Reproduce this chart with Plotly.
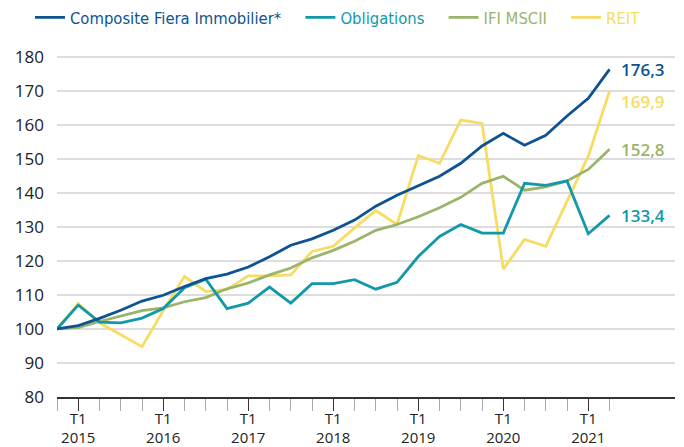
import plotly.graph_objects as go

quarters = ["T4 2014"] + [f"T{q} {y}" for y in range(2015, 2022) for q in range(1, 5)][:26]
composite = [100, 101.0, 103.1, 105.5, 108.2, 109.9, 112.5, 114.8, 116.1, 118.2, 121.2, 124.6, 126.5, 129.0,
             132.0, 136.1, 139.3, 142.2, 144.9, 148.7, 153.8, 157.5, 154.0, 156.9, 162.6, 167.8, 176.3]
obligations = [100, 107.0, 102.0, 101.8, 103.2, 106.0, 112.1, 114.6, 106.0, 107.6, 112.3, 107.6, 113.3, 113.3,
               114.5, 111.7, 113.7, 121.3, 127.2, 130.7, 128.2, 128.2, 142.8, 142.2, 143.5, 128.0, 133.4]
ifi_msci = [100, 100.4, 102.2, 103.9, 105.4, 106.2, 108.0, 109.2, 111.8, 113.5, 115.9, 117.9, 120.9, 123.1,
            125.8, 129.0, 130.7, 133.0, 135.6, 138.7, 142.8, 144.9, 140.8, 141.8, 143.5, 146.9, 152.8]
reit = [100, 107.5, 101.8, 98.3, 94.8, 105.4, 115.4, 111.0, 111.6, 115.6, 115.6, 115.9, 122.8, 124.3,
        129.7, 134.8, 130.7, 151.0, 148.7, 161.4, 160.4, 117.6, 126.3, 124.3, 137.7, 150.8, 169.9]

names = ["Composite Fiera Immobilier*", "Obligations", "IFI MSCII", "REIT"]
end_labels = ["176,3", "133,4", "152,8", "169,9"]
label_yshift = [0, 0, 0, -10]
colors = ["#0d5391", "#1199aa", "#9bb46b", "#f7dc64"]
series = [composite, obligations, ifi_msci, reit]

x = list(range(len(quarters)))
t1_idx = [i for i, q in enumerate(quarters) if q.startswith("T1")]
t1_text = ["T1<br>" + quarters[i].split()[1] for i in t1_idx]

pads = [3, 3, 3, 0]
fig = go.Figure()
draw_order = [3, 2, 1, 0]
for k in draw_order:
    fig.add_trace(go.Scatter(
        x=x, y=series[k], mode="lines",
        name=f"<span style='color:{colors[k]}'>{names[k]}</span>" + "\u00a0" * pads[k],
        line=dict(color=colors[k], width=2.8),
        legendrank=k + 1,
    ))
    fig.add_annotation(x=x[-1], y=series[k][-1], text=end_labels[k], showarrow=False,
                       xanchor="left", yanchor="middle", xshift=9, yshift=label_yshift[k],
                       font=dict(color=colors[k], size=17, family="Open Sans", weight=600))

# the page body adds an 8px offset, so the figure is sized to fit the 684x447 window
fig.update_layout(
    width=676, height=439,
    margin=dict(l=49, r=9, t=42, b=50, autoexpand=False),
    plot_bgcolor="white", paper_bgcolor="white",
    font=dict(family="Open Sans", color="#222222"),
    showlegend=True,
    legend=dict(orientation="h", x=0.0325, xanchor="left", xref="container",
                y=0.978, yanchor="middle", yref="container",
                font=dict(size=16.5, family="DejaVu Sans Condensed, Roboto Condensed, Roboto"),
                itemwidth=30, traceorder="normal"),
    xaxis=dict(range=[0, 29.08], tickmode="array", tickvals=t1_idx, ticktext=t1_text,
               automargin=False,
               ticks="outside", ticklen=12, tickcolor="#333333", tickwidth=1.2,
               ticklabelstandoff=-5,
               showgrid=False, zeroline=False,
               showline=True, linecolor="#333333", linewidth=1.5,
               tickfont=dict(size=15, color="#222222"),
               minor=dict(tickmode="array", tickvals=x, ticks="outside", ticklen=12,
                          tickcolor="#aaaaaa", tickwidth=1.2, showgrid=False)),
    yaxis=dict(range=[80, 182], tickmode="array", tickvals=list(range(80, 190, 10)),
               automargin=False,
               showgrid=True, gridcolor="#dddddd", gridwidth=1.5, zeroline=False,
               showline=False, ticks="", ticklabelstandoff=12,
               tickfont=dict(size=17, color="#222222", weight=500)),
)

fig.write_html("out.html")
